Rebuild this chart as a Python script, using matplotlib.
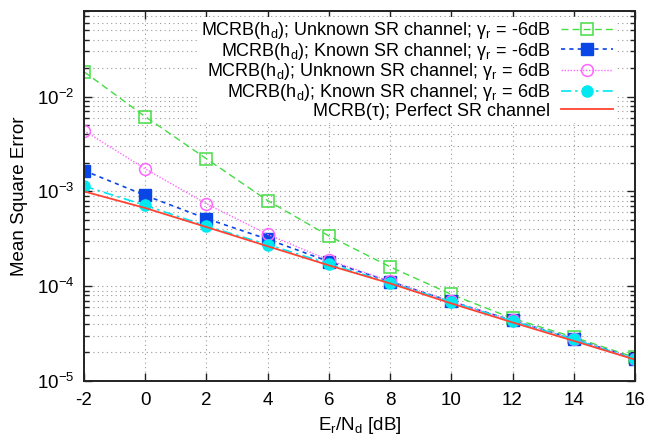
import matplotlib
matplotlib.use("Agg")
import matplotlib.pyplot as plt

plt.rcParams['font.family'] = ['Liberation Sans', 'DejaVu Sans']
plt.rcParams['mathtext.fontset'] = 'custom'
plt.rcParams['mathtext.rm'] = 'Liberation Sans'
plt.rcParams['mathtext.it'] = 'Liberation Sans:italic'
plt.rcParams['mathtext.bf'] = 'Liberation Sans:bold'
plt.rcParams['axes.unicode_minus'] = False

# SNR axis
snr = [-2, 0, 2, 4, 6, 8, 10, 12, 14, 16]

# MSE values
unknown_m6 = [1.83e-2, 6.15e-3, 2.21e-3, 8.0e-4, 3.39e-4, 1.60e-4, 8.2e-5, 4.57e-5, 2.9e-5, 1.77e-5]
known_m6 = [1.66e-3, 9.08e-4, 5.16e-4, 3.13e-4, 1.82e-4, 1.12e-4, 6.9e-5, 4.35e-5, 2.78e-5, 1.72e-5]
unknown_p6 = [4.38e-3, 1.73e-3, 7.41e-4, 3.52e-4, 1.88e-4, 1.13e-4, 6.9e-5, 4.35e-5, 2.78e-5, 1.72e-5]
known_p6 = [1.14e-3, 7.13e-4, 4.31e-4, 2.75e-4, 1.72e-4, 1.09e-4, 6.8e-5, 4.3e-5, 2.75e-5, 1.70e-5]
perfect = [1.0e-3, 6.68e-4, 4.21e-4, 2.64e-4, 1.66e-4, 1.07e-4, 6.58e-5, 4.15e-5, 2.65e-5, 1.68e-5]

labels = [
    r"MCRB(h$_\mathregular{d}$); Unknown SR channel; γ$_\mathregular{r}$ = -6dB",
    r"MCRB(h$_\mathregular{d}$); Known SR channel; γ$_\mathregular{r}$ = -6dB",
    r"MCRB(h$_\mathregular{d}$); Unknown SR channel; γ$_\mathregular{r}$ = 6dB",
    r"MCRB(h$_\mathregular{d}$); Known SR channel; γ$_\mathregular{r}$ = 6dB",
    "MCRB(τ); Perfect SR channel",
]

FS = 13.5

fig = plt.figure(figsize=(6.52, 4.36), dpi=100)
ax = fig.add_axes([84 / 652, 1 - 381 / 436, (635 - 84) / 652, (381 - 11) / 436])

ax.plot(snr, unknown_m6, color='#44dd44', ls=(0, (5, 3)), lw=1.0,
        marker='s', ms=9, mfc='none', mec='#44dd44', mew=1.1, label=labels[0])
ax.plot(snr, known_m6, color='#0a46e6', ls=(0, (2.5, 2.5)), lw=1.2,
        marker='s', ms=8, mfc='#0a46e6', mec='#0a46e6', label=labels[1])
ax.plot(snr, unknown_p6, color='#ff66ff', ls=(0, (1, 1.2)), lw=1.0,
        marker='o', ms=8.5, mfc='none', mec='#ff66ff', mew=1.1, label=labels[2])
ax.plot(snr, known_p6, color='#00e8f0', ls=(0, (6, 2.5, 1.5, 2.5)), lw=1.2,
        marker='o', ms=8, mfc='#00e8f0', mec='#00e8f0', label=labels[3])
ax.plot(snr, perfect, color='#ff4433', ls='-', lw=1.3, label=labels[4])

ax.set_yscale('log')
ax.set_xlim(-2, 16)
ax.set_ylim(1e-5, 0.08)
ax.set_xticks(snr)

ax.grid(True, which='major', axis='x', ls=(0, (1, 3)), color='#999999', lw=0.8)
ax.grid(True, which='both', axis='y', ls=(0, (1, 3)), color='#999999', lw=0.8)
ax.set_axisbelow(True)

ax.tick_params(which='both', direction='in', top=True, right=True, labelsize=FS,
               color='#222222')
ax.tick_params(axis='x', which='both', pad=8)
ax.tick_params(axis='y', which='both', pad=7)
ax.tick_params(which='major', length=6, width=1.0)
ax.tick_params(which='minor', length=3.5, width=1.0)
for s in ax.spines.values():
    s.set_linewidth(1.4)
    s.set_color('#222222')

ax.set_xlabel(r"E$_\mathregular{r}$/N$_\mathregular{d}$ [dB]", fontsize=FS, labelpad=4)
ax.set_ylabel("Mean Square Error", fontsize=FS, labelpad=6)

leg = ax.legend(loc='upper right', bbox_to_anchor=(0.967, 0.985), fontsize=13,
                markerfirst=False, frameon=True, fancybox=False, framealpha=1,
                edgecolor='white', handlelength=2.9, handletextpad=0.6,
                labelspacing=-0.02, borderpad=0.2, borderaxespad=0)
leg.get_frame().set_linewidth(0)
for t in leg.get_texts():
    t.set_ha('right')
leg._legend_box.align = 'right'

fig.savefig('out.png', dpi=100)
